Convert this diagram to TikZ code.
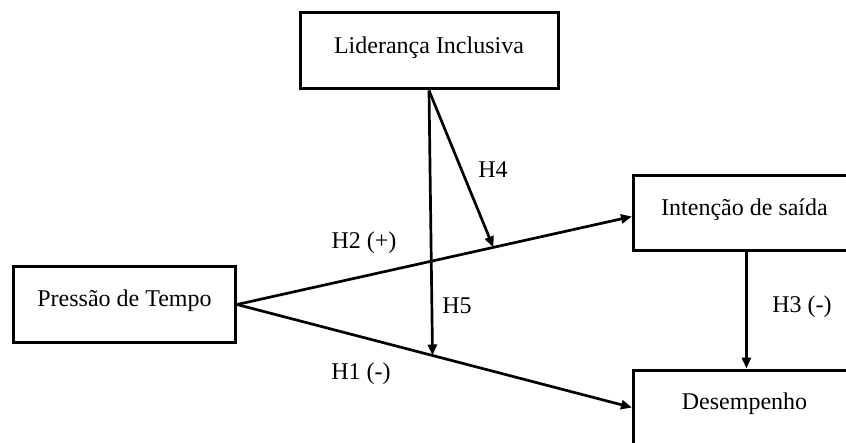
\documentclass[tikz,border=0pt]{standalone}
\usepackage{fontspec}
\setmainfont{Liberation Serif}
\usetikzlibrary{arrows.meta, positioning, calc}

\begin{document}
\begin{tikzpicture}[
    x=0.5pt, y=-0.5pt,
    font=\fontsize{12}{14}\selectfont,
    varbox/.style={draw, line width=1.5pt, align=center, minimum width=111pt, minimum height=37.5pt, text height=8pt, text depth=5.6pt},
    openbox/.style={varbox, anchor=west, minimum width=130pt},
    hyp/.style={inner sep=1pt},
    arrow/.style={-{Triangle[length=5.5pt, width=4.5pt]}, line width=1.35pt}
]
  \useasboundingbox (0,0) rectangle (846,443);
  \clip (0,0) rectangle (846,443);

  \node[varbox, minimum width=129pt, minimum height=38pt] (lider) at (429,51) {Liderança Inclusiva};
  \node[openbox] (intencao) at (632,213.5) {Intenção de saída\hspace*{19pt}};
  \node[varbox] (pressao) at (124.5,304.5) {Pressão de Tempo};
  \node[openbox] (desemp) at (632,407.5) {Desempenho\hspace*{19pt}};

  \draw[arrow] (pressao.east) -- ([yshift=-1.5pt]intencao.west);
  \draw[arrow] (pressao.east) -- (desemp.west);
  \draw[arrow] ($(intencao.south west)!0.435!(intencao.south east)$) -- ($(desemp.north west)!0.435!(desemp.north east)$);

  % moderation points on the two paths
  \coordinate (m4) at ($(pressao.east)!0.649!([yshift=-1.5pt]intencao.west)$);
  \coordinate (m5) at ($(pressao.east)!0.495!(desemp.west)$);
  \draw[arrow] (lider.south) -- (m4);
  \draw[arrow] (lider.south) -- (m5);

  \node[hyp] (h4) at (493,169.5) {H4};
  \node[hyp] (h2) at (364,243) {H2 (+)};
  \node[hyp] (h5) at (457,305.5) {H5};
  \node[hyp] (h1) at (361,374) {H1 (-)};
  \node[hyp] (h3) at (802,306.5) {H3 (-)};
\end{tikzpicture}
\end{document}
